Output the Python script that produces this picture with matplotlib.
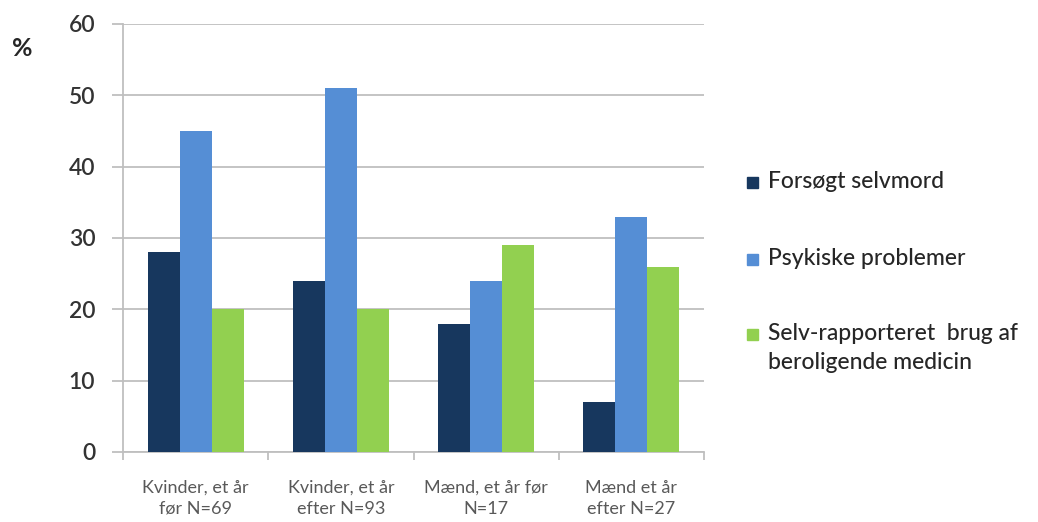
import matplotlib
matplotlib.use("Agg")
import matplotlib.pyplot as plt
import numpy as np
from matplotlib.patches import Rectangle

plt.rcParams['font.family'] = ['Lato', 'DejaVu Sans']

categories = ["Kvinder, et år\nfør N=69", "Kvinder, et år\nefter N=93",
              "Mænd, et år før\nN=17", "Mænd et år\nefter N=27"]
series_names = ["Forsøgt selvmord", "Psykiske problemer",
                "Selv-rapporteret  brug af\nberoligende medicin"]
forsoegt = [28, 24, 18, 7]
psykiske = [45, 51, 24, 33]
selv = [20, 20, 29, 26]
series = [forsoegt, psykiske, selv]
colors = ["#17375E", "#558ED5", "#92D050"]
yticks = [0, 10, 20, 30, 40, 50, 60]

fig = plt.figure(figsize=(10.38, 5.22), dpi=100)
ax = fig.add_axes([123/1038, 1-452/522, (704-123)/1038, (452-24)/522])

x = np.arange(len(categories))
w = 0.22
for i, (vals, c) in enumerate(zip(series, colors)):
    ax.bar(x + (i-1)*w, vals, width=w, color=c, edgecolor='none', zorder=3)

ax.set_xlim(-0.5, len(categories)-0.5)
ax.set_ylim(0, 60)
ax.set_yticks(yticks)
ax.set_yticklabels([str(t) for t in yticks], fontsize=16.5, color='#333333',
                   fontweight='semibold')
ax.yaxis.grid(True, color='#BFBFBF', linewidth=1.3, zorder=0)
ax.tick_params(axis='y', length=8, color='#BFBFBF', width=1.3, pad=12)

ax.set_xticks(x)
ax.set_xticklabels(categories, fontsize=13, color='#595959', linespacing=1.38)
ax.tick_params(axis='x', which='major', length=0, pad=20)
ax.set_xticks(np.arange(-0.5, len(categories)), minor=True)
ax.tick_params(axis='x', which='minor', length=6, color='#BFBFBF', width=1.3)

for s in ['top', 'right']:
    ax.spines[s].set_visible(False)
for s in ['left', 'bottom']:
    ax.spines[s].set_color('#BFBFBF')
    ax.spines[s].set_linewidth(1.3)

fig.text(12/1038, 1-48/522, "%", fontsize=18, fontweight='bold', color='#262626',
         va='center', ha='left')

# legend
leg_y = [183, 260, 335]
for name, c, yy in zip(series_names, colors, leg_y):
    fig.patches.append(Rectangle((747/1038, 1-(yy+5)/522), 11/1038, 11/522,
                                 transform=fig.transFigure, color=c))
    fig.text(768/1038, 1-(yy-12)/522, name, fontsize=16.5, color='#262626',
             va='top', ha='left', linespacing=1.45, fontweight='medium')

fig.savefig("out.png", dpi=100)
